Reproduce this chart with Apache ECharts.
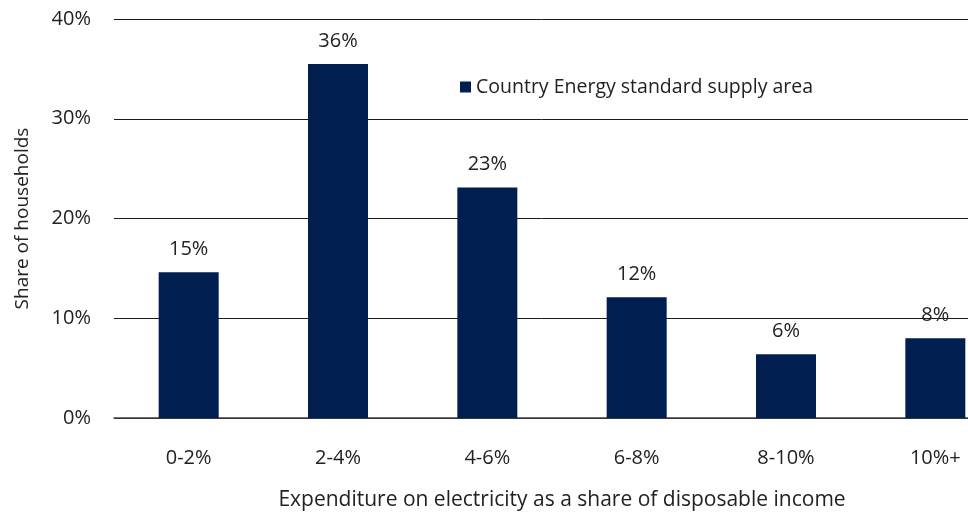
<!DOCTYPE html>
<html>
<head>
<meta charset="utf-8">
<script src="https://cdn.jsdelivr.net/npm/echarts@6/dist/echarts.min.js"></script>
<style>
  html, body { margin: 0; padding: 0; background: #fff; }
  #chart { width: 968px; height: 512px; }
</style>
</head>
<body>
<div id="chart"></div>
<script>
const categories = ['0-2%', '2-4%', '4-6%', '6-8%', '8-10%', '10%+'];
const shares = [14.6, 35.5, 23.1, 12.1, 6.4, 8.0];
const seriesName = 'Country Energy standard supply area';

const chart = echarts.init(document.getElementById('chart'));
const textFont = 'Open Sans';
const textColor = '#222';

chart.setOption({
  backgroundColor: '#fff',
  animation: false,
  textStyle: { fontFamily: textFont },
  grid: {
    left: 114, top: 19, width: 896, height: 399,
    containLabel: false,
    outerBoundsMode: 'none',
  },
  legend: {
    left: 455,
    top: 72,
    icon: 'rect',
    itemWidth: 11,
    itemHeight: 11,
    itemGap: 6,
    textStyle: { fontFamily: textFont, fontSize: 19.5, color: textColor },
    data: [seriesName],
  },
  xAxis: {
    type: 'category',
    data: categories,
    name: 'Expenditure on electricity as a share of disposable income',
    nameLocation: 'middle',
    nameGap: 72,
    nameTextStyle: { fontFamily: textFont, fontSize: 21, color: textColor },
    axisLine: { lineStyle: { color: '#404040', width: 1.5 } },
    axisTick: { show: false },
    axisLabel: { margin: 30, fontFamily: textFont, fontSize: 20, color: textColor },
  },
  yAxis: {
    type: 'value',
    min: 0,
    max: 40,
    interval: 10,
    name: 'Share of households',
    nameLocation: 'middle',
    nameGap: 82,
    nameTextStyle: { fontFamily: textFont, fontSize: 19, color: textColor },
    axisLine: { show: false },
    axisTick: { show: false },
    axisLabel: { margin: 23, formatter: '{value}%', fontFamily: textFont, fontSize: 20, color: textColor },
    splitLine: { lineStyle: { color: '#1a1a1a', width: 1 } },
  },
  series: [
    {
      name: seriesName,
      type: 'bar',
      data: shares,
      barWidth: 60,
      itemStyle: { color: '#001e50' },
      label: {
        show: true,
        position: 'top',
        distance: 13,
        fontFamily: textFont,
        fontSize: 20,
        color: textColor,
        formatter: function (p) {
          return Math.round(p.value) + '%';
        },
      },
    },
  ],
});
</script>
</body>
</html>
